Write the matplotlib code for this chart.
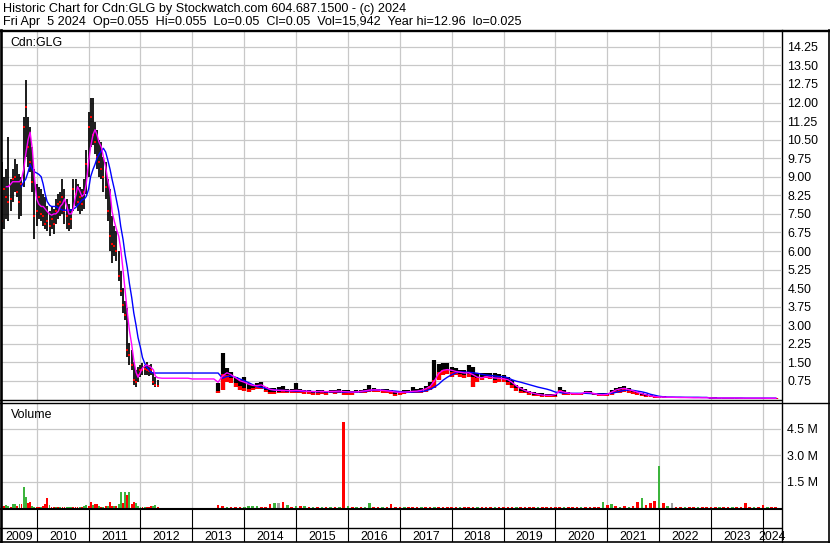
import numpy as np
import pandas as pd
import matplotlib
matplotlib.use('Agg')
import matplotlib.pyplot as plt
import matplotlib.dates as mdates
from matplotlib.lines import Line2D
from datetime import datetime

plt.rcParams['font.family'] = ['Liberation Sans', 'DejaVu Sans']

nan = np.nan

# ---- semi-monthly bars, May 2009 - May 2012 ----
early_dates = pd.date_range('2009-05-01', '2012-05-01', freq='SMS')
early_hi = [9.6, 9.0, 9.3, 10.6, 8.9, 9.3, 9.7, 9.5, 9.1, 9.0,
            11.4, 12.9, 11.4, 11.0, 10.2, 9.3, 8.7, 8.6, 8.5, 8.3,
            8.2, 7.8, 7.6, 7.8, 7.7, 8.1, 8.3, 8.4, 8.9, 8.5,
            8.1, 7.9, 7.7, 8.9, 8.9, 8.7, 8.6, 8.5, 8.9, 10.1,
            11.6, 12.2, 12.2, 11.2, 10.9, 10.5, 10.4, 9.8, 9.6, 8.9,
            8.5, 7.4, 7.0, 6.8, 6.0, 5.2, 4.5, 4.0, 3.7, 2.3,
            2.0, 1.5, 1.2, 1.3, 1.4, 1.47, 1.4, 1.5, 1.4, 1.45,
            1.1, 0.9, 0.8]
early_lo = [6.9, 6.9, 7.3, 7.2, 7.6, 8.0, 8.4, 8.2, 7.3, 7.4,
            8.6, 9.8, 9.4, 9.2, 8.4, 6.5, 7.0, 7.3, 7.2, 7.0,
            6.9, 6.8, 6.6, 6.9, 6.7, 7.1, 7.3, 7.4, 7.5, 7.1,
            6.9, 6.8, 6.9, 7.6, 7.8, 7.6, 7.5, 7.6, 7.7, 8.3,
            9.0, 10.2, 10.3, 9.9, 9.3, 9.0, 8.9, 8.4, 8.1, 7.2,
            6.0, 5.5, 5.8, 5.6, 4.8, 4.2, 3.5, 3.2, 1.7, 1.4,
            1.2, 0.6, 0.5, 0.7, 0.9, 1.0, 1.0, 1.0, 0.95, 1.0,
            0.6, 0.5, 0.5]
early_cl = [7.2, 8.5, 8.2, 8.0, 8.1, 8.9, 9.0, 8.4, 8.0, 8.7,
            11.0, 11.8, 10.2, 9.6, 8.8, 7.4, 7.6, 8.2, 7.5, 7.4,
            7.1, 7.2, 7.0, 7.3, 7.1, 7.6, 7.9, 8.0, 8.2, 7.6,
            7.4, 7.1, 7.3, 8.5, 8.3, 8.0, 8.2, 7.9, 8.4, 9.5,
            11.0, 11.4, 10.7, 10.4, 9.8, 9.6, 9.3, 9.0, 8.6, 7.6,
            6.6, 6.3, 6.2, 6.0, 5.0, 4.4, 3.8, 3.4, 2.0, 1.8,
            1.4, 0.8, 0.7, 1.0, 1.2, 1.2, 1.25, 1.2, 1.15, 1.2,
            0.7, 0.6, 0.55]
early_ma_fast = [nan, nan, 8.6, 8.6, 8.7, 8.8, 8.8, 8.8, 8.8, 8.9,
                 9.3, 9.9, 10.5, 10.8, 10.1, 9.0, 8.1, 7.9, 7.8, 7.8,
                 7.7, 7.6, 7.5, 7.45, 7.5, 7.5, 7.6, 7.8, 7.9, 8.1,
                 7.8, 7.5, 7.5, 7.7, 8.2, 8.6, 8.4, 8.2, 8.3, 8.7,
                 9.6, 10.2, 10.7, 10.9, 10.7, 10.4, 10.2, 9.8, 9.4, 8.9,
                 8.4, 7.6, 7.2, 6.9, 6.6, 6.1, 5.2, 4.4, 3.5, 2.8,
                 2.2, 1.6, 1.1, 0.9, 1.1, 1.27, 1.35, 1.4, 1.35, 1.3,
                 1.2, 0.95, 0.88]
early_ma_slow = [nan, nan, nan, nan, nan, nan, nan, nan, nan, 8.6,
                 8.8, 8.9, 9.2, 9.5, 9.3, 9.2, 9.15, 9.1, 9.0, 8.7,
                 8.3, 8.0, 7.85, 7.8, 7.8, 7.8, 7.75, 7.7, 7.65, 7.65,
                 7.65, 7.65, 7.65, 7.7, 7.75, 7.85, 7.95, 8.06, 8.1, 8.2,
                 8.5, 9.0, 9.3, 9.5, 9.75, 9.9, 10.05, 10.15, 10.0, 9.7,
                 9.3, 8.9, 8.5, 8.1, 7.6, 7.0, 6.45, 5.85, 5.3, 4.7,
                 4.1, 3.5, 3.0, 2.5, 2.1, 1.7, 1.45, 1.3, 1.2, 1.1,
                 1.07, 1.07, 1.07]
early_vol = [0.1, 0.1, 0.17, 0.1, 0.08, 0.2, 0.2, 0.1, 0.2, 0.2,
             1.2, 0.62, 0.3, 0.36, 0.1, 0.08, 0.08, 0.06, 0.06, 0.1,
             0.2, 0.58, 0.17, 0.08, 0.06, 0.05, 0.04, 0.05, 0.04, 0.05,
             0.04, 0.05, 0.06, 0.08, 0.06, 0.08, 0.05, 0.06, 0.1, 0.15,
             0.12, 0.36, 0.15, 0.2, 0.25, 0.1, 0.06, 0.08, 0.1, 0.1,
             0.36, 0.1, 0.1, 0.1, 0.2, 0.93, 0.3, 0.9, 0.74, 0.88,
             0.2, 0.35, 0.3, 0.12, 0.08, 0.06, 0.05, 0.04, 0.06, 0.1,
             0.1, 0.15, 0.08]
early_vol_col = ('grggrggrgr' 'ggrrggrrgr' 'rrgrrgrgrr' 'gggrrrgrgg'
                 'rrgrrgrgrg' 'rrgrggrgrg' 'rrgggrgrrr' 'ggr')

# ---- monthly bars, Jun 2012 - Apr 2024 (trading halted until mid 2013) ----
late_dates = pd.date_range('2012-06-01', '2024-04-01', freq='MS')
late_hi = ([nan] * 7 +
           [nan] * 6 + [0.65, 1.87, 1.26, 1.12, 0.92, 0.8] +
           [0.9, 0.65, 0.6, 0.68, 0.7, 0.52, 0.45, 0.48, 0.52, 0.55, 0.42, 0.42] +
           [0.68, 0.42, 0.38, 0.4, 0.36, 0.4, 0.38, 0.36, 0.4, 0.38, 0.42, 0.4] +
           [0.38, 0.36, 0.38, 0.4, 0.42, 0.58, 0.46, 0.42, 0.42, 0.41, 0.39, 0.36] +
           [0.36, 0.39, 0.39, 0.52, 0.41, 0.45, 0.55, 0.72, 1.6, 1.45, 1.47, 1.46] +
           [1.33, 1.26, 1.19, 1.19, 1.39, 1.33, 1.06, 1.06, 1.08, 1.08, 1.06, 1.03] +
           [0.99, 0.92, 0.79, 0.59, 0.52, 0.41, 0.36, 0.32, 0.28, 0.25, 0.22, 0.22] +
           [0.22, 0.52, 0.385, 0.32, 0.28, 0.28, 0.28, 0.36, 0.35, 0.28, 0.25, 0.25] +
           [0.25, 0.385, 0.45, 0.52, 0.55, 0.45, 0.385, 0.32, 0.25, 0.22, 0.18, 0.14] +
           [0.12, 0.13, 0.12, 0.11, 0.11, 0.1, 0.1, 0.1, 0.09, 0.09, 0.1, 0.09] +
           [0.09, 0.085, 0.08, 0.08, 0.08, 0.075, 0.075, 0.07, 0.07, 0.07, 0.065, 0.065] +
           [0.065, 0.06, 0.06, 0.055])
late_lo = ([nan] * 7 +
           [nan] * 6 + [0.27, 0.38, 0.72, 0.65, 0.52, 0.39] +
           [0.36, 0.32, 0.38, 0.41, 0.44, 0.32, 0.22, 0.22, 0.25, 0.27, 0.25, 0.27] +
           [0.28, 0.25, 0.22, 0.22, 0.18, 0.2, 0.22, 0.2, 0.25, 0.22, 0.25, 0.18] +
           [0.2, 0.18, 0.25, 0.28, 0.28, 0.3, 0.32, 0.3, 0.28, 0.25, 0.22, 0.14] +
           [0.18, 0.22, 0.25, 0.25, 0.25, 0.28, 0.32, 0.39, 0.45, 0.79, 1.0, 1.02] +
           [0.92, 0.99, 0.92, 0.86, 0.92, 0.52, 0.72, 0.79, 0.86, 0.82, 0.65, 0.72] +
           [0.72, 0.59, 0.45, 0.36, 0.28, 0.25, 0.18, 0.14, 0.14, 0.115, 0.115, 0.115] +
           [0.115, 0.25, 0.18, 0.18, 0.18, 0.17, 0.17, 0.22, 0.21, 0.18, 0.14, 0.14] +
           [0.14, 0.18, 0.25, 0.28, 0.32, 0.28, 0.22, 0.18, 0.14, 0.115, 0.09, 0.075] +
           [0.07, 0.07, 0.06, 0.06, 0.06, 0.05, 0.05, 0.05, 0.05, 0.05, 0.05, 0.05] +
           [0.04, 0.04, 0.04, 0.04, 0.035, 0.035, 0.035, 0.03, 0.03, 0.03, 0.03, 0.03] +
           [0.03, 0.025, 0.025, 0.025])
late_cl = ([nan] * 7 +
           [nan] * 6 + [0.33, 1.05, 1.0, 0.85, 0.68, 0.55] +
           [0.48, 0.42, 0.45, 0.52, 0.52, 0.4, 0.3, 0.3, 0.32, 0.33, 0.32, 0.33] +
           [0.34, 0.33, 0.3, 0.3, 0.27, 0.28, 0.3, 0.28, 0.3, 0.3, 0.32, 0.25] +
           [0.28, 0.25, 0.3, 0.33, 0.35, 0.4, 0.4, 0.37, 0.35, 0.33, 0.3, 0.22] +
           [0.26, 0.28, 0.3, 0.32, 0.33, 0.36, 0.42, 0.55, 0.8, 1.1, 1.2, 1.2] +
           [1.1, 1.1, 1.05, 1.0, 1.05, 0.9, 0.85, 0.9, 0.95, 0.92, 0.8, 0.85] +
           [0.82, 0.72, 0.6, 0.45, 0.36, 0.3, 0.25, 0.2, 0.18, 0.16, 0.15, 0.15] +
           [0.15, 0.38, 0.28, 0.24, 0.22, 0.22, 0.22, 0.3, 0.28, 0.22, 0.18, 0.18] +
           [0.2, 0.3, 0.36, 0.4, 0.42, 0.36, 0.3, 0.25, 0.2, 0.16, 0.13, 0.11] +
           [0.1, 0.1, 0.09, 0.09, 0.08, 0.08, 0.08, 0.07, 0.07, 0.07, 0.07, 0.07] +
           [0.06, 0.06, 0.06, 0.06, 0.06, 0.055, 0.055, 0.055, 0.05, 0.05, 0.05, 0.05] +
           [0.05, 0.05, 0.05, 0.05])
late_ma_fast = ([0.86] * 7 +
                [0.83] * 6 + [0.7, 0.95, 1.08, 1.0, 0.88, 0.76] +
                [0.7, 0.62, 0.57, 0.56, 0.59, 0.5, 0.41, 0.38, 0.37, 0.37, 0.36, 0.36] +
                [0.37, 0.36, 0.34, 0.33, 0.32, 0.32, 0.33, 0.32, 0.33, 0.33, 0.34, 0.32] +
                [0.31, 0.3, 0.31, 0.33, 0.35, 0.38, 0.39, 0.385, 0.37, 0.35, 0.33, 0.3] +
                [0.29, 0.3, 0.31, 0.33, 0.34, 0.37, 0.43, 0.52, 0.75, 1.05, 1.18, 1.21] +
                [1.18, 1.13, 1.1, 1.07, 1.08, 1.0, 0.9, 0.88, 0.92, 0.9, 0.87, 0.86] +
                [0.84, 0.8, 0.7, 0.55, 0.45, 0.36, 0.3, 0.25, 0.21, 0.18, 0.17, 0.17] +
                [0.2, 0.34, 0.3, 0.26, 0.24, 0.23, 0.24, 0.29, 0.28, 0.24, 0.2, 0.19] +
                [0.21, 0.3, 0.38, 0.43, 0.45, 0.4, 0.35, 0.29, 0.24, 0.19, 0.15, 0.12] +
                [0.1, 0.1, 0.09, 0.09, 0.085, 0.08, 0.08, 0.075, 0.07, 0.07, 0.07, 0.07] +
                [0.065, 0.06, 0.06, 0.06, 0.06, 0.06, 0.06, 0.055, 0.055, 0.055, 0.055, 0.055] +
                [0.055, 0.05, 0.05, 0.05])
late_ma_slow = ([1.07] * 7 +
                [1.07] * 6 + [1.07, 0.86, 0.93, 0.95, 0.9, 0.83] +
                [0.76, 0.68, 0.6, 0.52, 0.49, 0.45, 0.41, 0.39, 0.37, 0.36, 0.36, 0.35] +
                [0.34, 0.34, 0.33, 0.33, 0.32, 0.32, 0.32, 0.31, 0.31, 0.31, 0.31, 0.3] +
                [0.3, 0.3, 0.3, 0.31, 0.33, 0.36, 0.38, 0.385, 0.37, 0.36, 0.35, 0.34] +
                [0.32, 0.3, 0.29, 0.3, 0.31, 0.32, 0.35, 0.41, 0.5, 0.62, 0.78, 0.9] +
                [1.0, 1.08, 1.12, 1.11, 1.1, 1.08, 1.06, 1.02, 0.99, 0.97, 0.95, 0.93] +
                [0.92, 0.88, 0.8, 0.74, 0.7, 0.65, 0.6, 0.55, 0.5, 0.46, 0.42, 0.37] +
                [0.3, 0.28, 0.26, 0.25, 0.25, 0.25, 0.25, 0.25, 0.24, 0.23, 0.22, 0.22] +
                [0.23, 0.25, 0.29, 0.33, 0.37, 0.38, 0.37, 0.34, 0.31, 0.27, 0.21, 0.17] +
                [0.13, 0.11, 0.1, 0.1, 0.095, 0.095, 0.09, 0.09, 0.09, 0.09, 0.085, 0.085] +
                [0.06, 0.06, 0.06, 0.06, 0.06, 0.06, 0.06, 0.06, 0.055, 0.055, 0.055, 0.055] +
                [0.055, 0.055, 0.055, 0.055])
late_vol = ([0] * 7 +
            [0] * 6 + [0.15, 0.1, 0.08, 0.05, 0.05, 0.04] +
            [0.08, 0.1, 0.12, 0.1, 0.08, 0.06, 0.2, 0.27, 0.3, 0.36, 0.15, 0.08] +
            [0.1, 0.12, 0.1, 0.05, 0.05, 0.06, 0.08, 0.06, 0.05, 0.06, 0.08, 4.9] +
            [0.1, 0.06, 0.05, 0.06, 0.08, 0.3, 0.06, 0.05, 0.06, 0.08, 0.25, 0.08] +
            [0.06, 0.05, 0.07, 0.05, 0.06, 0.08, 0.06, 0.07, 0.08, 0.06, 0.07, 0.05] +
            [0.06, 0.05, 0.06, 0.07, 0.05, 0.06, 0.06, 0.05, 0.07, 0.06, 0.05, 0.06] +
            [0.05, 0.06, 0.05, 0.07, 0.06, 0.05, 0.06, 0.05, 0.06, 0.05, 0.06, 0.05] +
            [0.05, 0.06, 0.08, 0.05, 0.06, 0.05, 0.07, 0.06, 0.05, 0.06, 0.05, 0.34] +
            [0.15, 0.2, 0.1, 0.08, 0.1, 0.08, 0.1, 0.34, 0.55, 0.15, 0.3, 0.4] +
            [2.4, 0.3, 0.1, 0.3, 0.06, 0.05, 0.06, 0.05, 0.06, 0.05, 0.06, 0.05] +
            [0.06, 0.05, 0.06, 0.05, 0.06, 0.05, 0.06, 0.05, 0.3, 0.06, 0.05, 0.06] +
            [0.15, 0.06, 0.05, 0.06])
late_vol_col = ('rrrrrrr' 'rrrrrrrrgrrr' 'ggggrrrgkrgr' 'grgrgrgrgrgr'
                'grgrggrrgrrr' 'rgrrrgrrgrrr' 'rrgrrrgrrrgr' 'rrrgrrrrgrrr'
                'rrgrrrgrrrrg' 'rgrgrgrrgrrr' 'grgkrrgrrgrr' 'rrgrrgrrrrgr' 'rgrr')

price_ticks = [0.75 * k for k in range(1, 20)]
vol_ticks = [1.5, 3.0, 4.5]

# ---- layout (pixels) ----
W, H = 830, 543


def box(l, t, r, b):
    return [l / W, 1 - b / H, (r - l) / W, (b - t) / H]


def hline(y, x0, x1, lw):
    fig.add_artist(Line2D([x0 / W, x1 / W], [1 - y / H, 1 - y / H],
                          transform=fig.transFigure, color='black', lw=lw))


def vline(x, y0, y1, lw):
    fig.add_artist(Line2D([x / W, x / W], [1 - y0 / H, 1 - y1 / H],
                          transform=fig.transFigure, color='black', lw=lw))


fs = 8.9
grid_col = '#c8c8c8'
vol_colors = {'g': '#3cb43c', 'r': '#ff0000', 'k': '#a0a0a0'}

fig = plt.figure(figsize=(W / 100, H / 100), dpi=100)
fig.patch.set_facecolor('white')

ex = mdates.date2num(early_dates.to_pydatetime())
lx = mdates.date2num(late_dates.to_pydatetime())
x0 = mdates.date2num(datetime(2009, 5, 1))
x1 = mdates.date2num(datetime(2024, 5, 8))
year_starts = [mdates.date2num(datetime(y, 1, 1)) for y in range(2010, 2025)]

ax = fig.add_axes(box(2, 31, 781, 400))
axv = fig.add_axes(box(2, 402.5, 781, 509))
axs = fig.add_axes(box(2, 509, 781, 542))
for a in (ax, axv, axs):
    a.set_xlim(x0, x1)
    for s in a.spines.values():
        s.set_visible(False)
    a.set_xticks([])
    a.set_facecolor('white')

# price panel
ax.set_ylim(-0.02, 14.89)
for xs in year_starts:
    ax.axvline(xs, color=grid_col, lw=0.9, zorder=0)
    axv.axvline(xs, color=grid_col, lw=0.9, zorder=0)
for t in price_ticks:
    ax.axhline(t, color=grid_col, lw=0.9, zorder=0)

ehi = np.array(early_hi)
elo = np.array(early_lo)
ax.vlines(ex, elo, ehi, color='black', lw=1.25, zorder=2)
ax.plot(ex, early_cl, ls='none', marker='_', ms=1.8, mew=1.4, color='red', zorder=3)

lhi = np.array(late_hi, dtype=float)
llo = np.array(late_lo, dtype=float)
lcl = np.array(late_cl, dtype=float)
ok = ~np.isnan(lhi)
ax.vlines(lx[ok], llo[ok], lhi[ok], color='black', lw=3.0, zorder=2)
ax.vlines(lx[ok], llo[ok], lcl[ok], color='red', lw=3.0, zorder=3)

all_x = np.concatenate([ex, lx])
ax.plot(all_x, np.concatenate([early_ma_slow, late_ma_slow]), color='#0000ff', lw=1.0, zorder=4)
ax.plot(all_x, np.concatenate([early_ma_fast, late_ma_fast]), color='#ff00ff', lw=1.0, zorder=5)

ax.yaxis.tick_right()
ax.set_yticks(price_ticks)
ax.set_yticklabels(['%.2f' % t for t in price_ticks])
ax.tick_params(axis='y', length=0, pad=4.5, labelsize=fs)
ax.text(8 / 779, 1 - (46.5 - 31) / 369, 'Cdn:GLG', transform=ax.transAxes,
        fontsize=fs, va='baseline', ha='left')

# volume panel
axv.set_ylim(-0.06, 6.0)
for t in vol_ticks:
    axv.axhline(t, color=grid_col, lw=0.9, zorder=0)
axv.bar(ex, early_vol, width=13, color=[vol_colors[c] for c in early_vol_col],
        linewidth=0, zorder=2)
axv.bar(lx, late_vol, width=18, color=[vol_colors[c] for c in late_vol_col],
        linewidth=0, zorder=2)
axv.yaxis.tick_right()
axv.set_yticks(vol_ticks)
axv.set_yticklabels(['%.1f M' % t for t in vol_ticks])
axv.tick_params(axis='y', length=0, pad=4.5, labelsize=fs)
axv.text(9 / 779, 1 - (418 - 402.5) / 106.5, 'Volume', transform=axv.transAxes,
         fontsize=fs, va='baseline', ha='left')

# year strip
axs.set_ylim(0, 1)
axs.set_yticks([])
axs.vlines(year_starts, 0, 1, color='black', lw=0.8)
for y in range(2009, 2025):
    a0 = max(mdates.date2num(datetime(y, 1, 1)), x0)
    a1 = min(mdates.date2num(datetime(y + 1, 1, 1)), x1)
    axs.text((a0 + a1) / 2, (542 - 539.5) / 33, str(y), fontsize=fs,
             ha='center', va='baseline', clip_on=False)

# frame lines
hline(30.5, 0, 830, 1.7)
vline(1, 30, 543, 1.9)
vline(781.5, 30, 543, 1.0)
vline(829, 30, 543, 1.2)
hline(542, 0, 830, 1.2)
hline(400, 0, 781, 1.0)
hline(402.5, 0, 830, 1.0)
hline(509, 0, 781, 1.5)
hline(527.5, 0, 781, 1.0)

# header
fig.text(3 / W, 1 - 12 / H,
         'Historic Chart for Cdn:GLG by Stockwatch.com 604.687.1500 - (c) 2024',
         fontsize=9.1, va='baseline', ha='left')
fig.text(3 / W, 1 - 25 / H,
         'Fri Apr  5 2024  Op=0.055  Hi=0.055  Lo=0.05  Cl=0.05  Vol=15,942  Year hi=12.96  lo=0.025',
         fontsize=9.1, va='baseline', ha='left')

fig.savefig('out.png', dpi=100)
